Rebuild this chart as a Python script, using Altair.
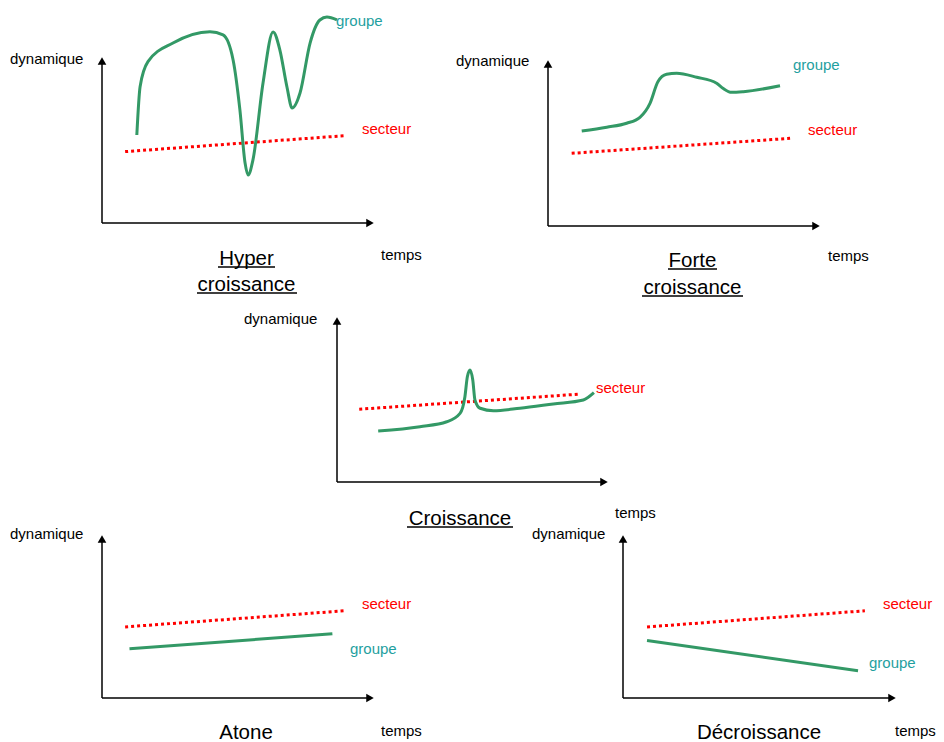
import altair as alt
import pandas as pd

# ---------------- data (local units: "temps" 0-100 along the x axis, "dynamique" 0-100 along the y axis)
panels = ["hyper", "forte", "croissance", "atone", "decroissance"]

hyper_groupe_t = [12.8, 14.0, 16.9, 26.1, 39.7, 44.5, 48.2, 50.7, 52.6, 53.7, 55.5, 59.2, 62.9, 65.4, 68.0, 69.9, 72.8, 76.5, 80.1, 82.7, 86.4]
hyper_groupe_d = [53.0, 82.1, 97.2, 108.4, 115.2, 113.3, 98.2, 68.1, 36.1, 28.9, 38.0, 84.3, 115.1, 104.2, 81.9, 69.3, 78.3, 108.4, 122.3, 124.1, 122.3]
hyper_secteur_t = [8.5, 89.3]
hyper_secteur_d = [43.0, 52.6]

forte_groupe_t = [12.4, 21.6, 28.9, 33.8, 37.5, 40.4, 43.6, 47.3, 54.7, 62.0, 64.3, 67.5, 71.8, 85.3]
forte_groupe_d = [57.2, 59.5, 61.9, 65.5, 73.9, 86.9, 91.4, 92.0, 89.6, 86.0, 83.0, 80.5, 80.9, 84.5]
forte_secteur_t = [8.7, 89.0]
forte_secteur_d = [43.8, 52.8]

croiss_groupe_t = [15.2, 30.6, 40.5, 45.4, 47.2, 48.1, 49.1, 50.1, 50.9, 52.8, 57.7, 67.5, 79.8, 90.9, 92.7, 94.8]
croiss_groupe_d = [30.9, 33.5, 36.5, 41.6, 51.7, 63.8, 67.9, 61.8, 49.7, 44.7, 43.2, 44.7, 47.3, 49.7, 51.3, 54.1]
croiss_secteur_t = [8.2, 89.0]
croiss_secteur_d = [44.1, 53.2]

atone_groupe_t = [10.1, 84.7]
atone_groupe_d = [30.2, 39.4]
atone_secteur_t = [8.5, 89.1]
atone_secteur_d = [43.6, 53.5]

decr_groupe_t = [8.8, 86.1]
decr_groupe_d = [35.3, 16.7]
decr_secteur_t = [8.8, 88.6]
decr_secteur_d = [43.6, 53.5]

titles = [["Hyper", "croissance"], ["Forte", "croissance"], ["Croissance"], ["Atone"], ["Décroissance"]]
underlined = [True, True, True, False, False]
axis_x_label = "temps"
axis_y_label = "dynamique"
series_labels = ["groupe", "secteur"]

# ---------------- layout (page pixels)
M = 8
W, H = 928, 734
layout = {
    "hyper":        dict(ox=102, oy=223, xtip=374, ytip=57,  ly=166),
    "forte":        dict(ox=548, oy=226, xtip=820, ytip=60,  ly=166),
    "croissance":   dict(ox=337, oy=482, xtip=608, ytip=317, ly=165),
    "atone":        dict(ox=102, oy=698, xtip=374, ytip=535, ly=163),
    "decroissance": dict(ox=623, oy=698, xtip=896, ytip=535, ly=163),
}
lx = {"hyper": 272, "forte": 272, "croissance": 271, "atone": 272, "decroissance": 273}

series = {
    "hyper": (hyper_groupe_t, hyper_groupe_d, hyper_secteur_t, hyper_secteur_d),
    "forte": (forte_groupe_t, forte_groupe_d, forte_secteur_t, forte_secteur_d),
    "croissance": (croiss_groupe_t, croiss_groupe_d, croiss_secteur_t, croiss_secteur_d),
    "atone": (atone_groupe_t, atone_groupe_d, atone_secteur_t, atone_secteur_d),
    "decroissance": (decr_groupe_t, decr_groupe_d, decr_secteur_t, decr_secteur_d),
}

def to_px(p, t, d):
    L = layout[p]
    return L["ox"] + t / 100.0 * lx[p] - M, L["oy"] - d / 100.0 * L["ly"] - M

rows = []
for p in panels:
    gt, gd, st, sd = series[p]
    for i, (t, d) in enumerate(zip(gt, gd)):
        x, y = to_px(p, t, d)
        rows.append(dict(panel=p, serie="groupe", order=i, x=x, y=y))
    for i, (t, d) in enumerate(zip(st, sd)):
        x, y = to_px(p, t, d)
        rows.append(dict(panel=p, serie="secteur", order=i, x=x, y=y))
lines = pd.DataFrame(rows)

axes_rows, arrows_rows = [], []
for p in panels:
    L = layout[p]
    ox, oy = L["ox"] - M, L["oy"] - M
    xt, yt = L["xtip"] - M, L["ytip"] - M
    axes_rows.append(dict(x=ox, y=oy, x2=xt - 6, y2=oy))
    axes_rows.append(dict(x=ox, y=oy, x2=ox, y2=yt + 6))
    arrows_rows.append(dict(x=xt - 4, y=oy, shape="triangle-right"))
    arrows_rows.append(dict(x=ox, y=yt + 4, shape="triangle-up"))
axes_df = pd.DataFrame(axes_rows)
arrows_df = pd.DataFrame(arrows_rows)

GREEN_TXT = "#1fa0a0"
label_pos = {
    # panel: (dynamique x,y), (temps x,y), (groupe x,y), (secteur x,y)   -- left edge / baseline
    "hyper":        ((10, 64),  (381, 260), (336, 26),  (362, 134)),
    "forte":        ((456, 66), (828, 261), (793, 70),  (808, 135)),
    "croissance":   ((244, 324), (615, 518), None,      (596, 393)),
    "atone":        ((10, 539), (381, 736), (350, 654), (362, 609)),
    "decroissance": ((532, 539), (895, 736), (869, 668), (883, 609)),
}
text_rows = []
for p in panels:
    dyn, tps, grp, sec = label_pos[p]
    text_rows.append(dict(x=dyn[0] - M, y=dyn[1] - M, text=axis_y_label, color="#000000"))
    text_rows.append(dict(x=tps[0] - M, y=tps[1] - M, text=axis_x_label, color="#000000"))
    if grp:
        text_rows.append(dict(x=grp[0] - M, y=grp[1] - M, text=series_labels[0], color=GREEN_TXT))
    text_rows.append(dict(x=sec[0] - M, y=sec[1] - M, text=series_labels[1], color="#ff0000"))
small_text = pd.DataFrame(text_rows)

title_pos = {
    "hyper": (246.5, [265, 291], [(218, 275, 267), (197, 297, 293)]),
    "forte": (692.5, [267, 294], [(668, 717, 269), (642, 743, 296)]),
    "croissance": (460, [525], [(407, 513, 527)]),
    "atone": (246, [739], []),
    "decroissance": (759, [739], []),
}
trows, urows = [], []
for p, lines_txt, ul in zip(panels, titles, underlined):
    cx, ys, uls = title_pos[p]
    for t, y in zip(lines_txt, ys):
        trows.append(dict(x=cx - M, y=y - M, text=t))
    if ul:
        for a, b, y in uls:
            urows.append(dict(x=a - M, x2=b - M, y=y - M))
title_df = pd.DataFrame(trows)
ul_df = pd.DataFrame(urows)

xs = alt.Scale(domain=[0, W], nice=False, zero=False)
ys = alt.Scale(domain=[0, H], nice=False, zero=False, reverse=True)
X = lambda f="x": alt.X(f"{f}:Q", scale=xs, axis=None)
Y = lambda f="y": alt.Y(f"{f}:Q", scale=ys, axis=None)

axes = alt.Chart(axes_df).mark_rule(color="black", strokeWidth=1.5).encode(
    x=X(), y=Y(), x2="x2:Q", y2="y2:Q")
arrows = alt.Chart(arrows_df).mark_point(filled=True, color="black", opacity=1, size=75).encode(
    x=X(), y=Y(), shape=alt.Shape("shape:N", scale=None))

groupe = alt.Chart(lines).transform_filter(alt.datum.serie == "groupe").mark_line(
    color="#339966", strokeWidth=3, interpolate="monotone").encode(
    x=X(), y=Y(), detail="panel:N", order="order:Q")
secteur = alt.Chart(lines).transform_filter(alt.datum.serie == "secteur").mark_line(
    color="#ff0000", strokeWidth=3, strokeDash=[3, 3]).encode(
    x=X(), y=Y(), detail="panel:N", order="order:Q")

labels = alt.Chart(small_text).mark_text(
    align="left", baseline="alphabetic", font="Liberation Sans", fontSize=15).encode(
    x=X(), y=Y(), text="text:N", color=alt.Color("color:N", scale=None))
ttl = alt.Chart(title_df).mark_text(
    align="center", baseline="alphabetic", font="Liberation Sans", fontSize=20.5, color="black").encode(
    x=X(), y=Y(), text="text:N")
unders = alt.Chart(ul_df).mark_rule(color="black", strokeWidth=1.5).encode(
    x=X(), x2="x2:Q", y=Y())

chart = alt.layer(axes, arrows, secteur, groupe, labels, ttl, unders).properties(
    width=W, height=H, padding=0, autosize=alt.AutoSizeParams(type="none")
).configure(background="white", view=alt.ViewConfig(stroke=None))

chart.save("out.html", embed_options={"renderer": "svg", "actions": False})
